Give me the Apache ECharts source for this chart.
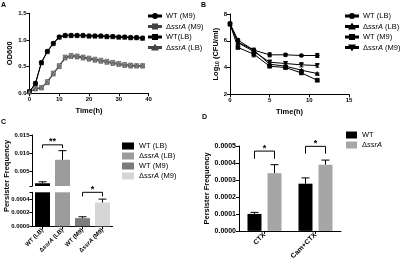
<!doctype html>
<html>
<head>
<meta charset="utf-8">
<title>ssrA persister</title>
<script src="https://cdn.jsdelivr.net/npm/echarts@6/dist/echarts.min.js"></script>
</head>
<body style="margin:0;padding:0;background:#fff;">
<div id="chart" style="width:400px;height:262px;"></div>
<script>
// A: growth curves (OD600)
var growthTime = [0,2,4,6,8,10,12,14,16,18,20,22,24,26,28,30,32,34,36,38];
var growthWtM9 = [0.03,0.19,0.58,0.79,0.94,1.06,1.09,1.09,1.09,1.09,1.08,1.08,1.08,1.07,1.07,1.06,1.06,1.05,1.05,1.04];
var growthSsrAM9 = [0.03,0.09,0.11,0.22,0.38,0.52,0.68,0.71,0.7,0.68,0.66,0.64,0.62,0.6,0.58,0.56,0.54,0.53,0.52,0.52];
var growthWtLB = [0.03,0.18,0.57,0.78,0.93,1.05,1.08,1.08,1.08,1.08,1.07,1.07,1.07,1.06,1.06,1.05,1.05,1.04,1.04,1.03];
var growthSsrALB = [0.03,0.08,0.1,0.2,0.36,0.5,0.66,0.69,0.68,0.66,0.64,0.62,0.6,0.58,0.56,0.54,0.52,0.51,0.51,0.51];

// B: killing curves, log10 CFU/ml
var killTime = [0,1,3,5,7,9,11];
var killWtLB = [7.3,6.05,5.3,4.95,4.95,4.9,4.9];
var killWtLBErr = [0.05,0.1,0.15,0.15,0.1,0.05,0.15];
var killSsrALB = [7.25,5.9,5.3,4.25,4.1,3.8,3.55];
var killSsrALBErr = [0.05,0.15,0.1,0.1,0.1,0.05,0.05];
var killWtM9 = [7.25,5.5,5.0,4.1,4.0,3.6,3.05];
var killWtM9Err = [0.05,0.1,0.2,0.1,0.1,0.08,0.08];
var killSsrAM9 = [7.25,5.85,5.2,4.4,4.3,4.2,4.15];
var killSsrAM9Err = [0.05,0.15,0.15,0.15,0.15,0.15,0.12];

// C: persister frequency, broken axis
var persistCats = ['WT (LB)', 'ΔssrA (LB)', 'WT (M9)', 'ΔssrA (M9)'];
var persistVals = [0.00175, 0.0082, 0.00012, 0.00035];
var persistErrs = [0.0004, 0.0025, 0.00002, 0.00005];
var cUpperTicks = [0.005, 0.010, 0.015];
var cLowerTicks = [0, 0.0002, 0.0004];
var sigCUpper = [[0, 1, 0.0123, 0.0114, '**']];
var sigCLower = [[2, 3, 0.0005, 0.00044, '*']];

// D: persister frequency with CTX / Cam+CTX
var ctxCats = ['CTX', 'Cam+CTX'];
var ctxWt = [0.0001, 0.000278];
var ctxWtErr = [0.000009, 0.000034];
var ctxSsrA = [0.00034, 0.00039];
var ctxSsrAErr = [0.00005, 0.000027];
var sigD = [[0, 0, 0.00047, 0.000425, '*'], [1, 1, 0.000498, 0.000455, '*']];

var FONT = 'Liberation Sans';
var persistColors = ['#000000', '#9b9b9b', '#7b7b7b', '#d6d6d6'];

// legend icons: short line with a marker in the middle
var ICON_LINE = 'M0,3h24v2h-24z ';
var icons = {
    circle: 'path://' + ICON_LINE + 'M16,4A4,4 0 1,0 8,4A4,4 0 1,0 16,4Z',
    rect: 'path://' + ICON_LINE + 'M8,0h8v8h-8z',
    tri: 'path://' + ICON_LINE + 'M12,0L16.5,8L7.5,8Z',
    triDown: 'path://' + ICON_LINE + 'M7.5,0L16.5,0L12,8Z'
};

function richName(s) {
    var n = s.indexOf('|') >= 0 ? s.split('|')[1] : s;
    if (n.indexOf('ΔssrA') === 0) return '{d|Δ}{i|ssrA}{d|' + n.slice(5) + '}';
    return '{d|' + n + '}';
}
function richStyle(size, weight) {
    return {
        d: {fontSize: size, fontFamily: FONT, fontWeight: weight, color: '#000', lineHeight: size + 1},
        i: {fontSize: size, fontFamily: FONT, fontWeight: weight, fontStyle: 'italic', color: '#000', lineHeight: size + 1}
    };
}

var axisLineStyle = {show: true, lineStyle: {color: '#000', width: 1}};
var tickStyle = {show: true, inside: false, length: 3, lineStyle: {color: '#000', width: 1}};
var labelStyle = {color: '#000', fontSize: 6, fontWeight: 'bold', fontFamily: FONT, margin: 3};
var nameStyle = {color: '#000', fontSize: 7.5, fontWeight: 'bold', fontFamily: FONT};

function valueAxis(grid, min, max, interval, digits, extra, labelExtra) {
    var ax = {
        type: 'value', gridIndex: grid, min: min, max: max, interval: interval,
        axisLine: axisLineStyle, axisTick: tickStyle, splitLine: {show: false},
        axisLabel: Object.assign({}, labelStyle, {
            formatter: function (v) { return digits == null ? String(v) : v.toFixed(digits); }
        }, labelExtra || {})
    };
    return Object.assign(ax, extra || {});
}

function zip(xs, ys) { return xs.map(function (x, i) { return [x, ys[i]]; }); }

function lineSeries(name, x, y, xs, ys, symbol, color, lineColor, extra) {
    return Object.assign({
        type: 'line', name: name, xAxisIndex: x, yAxisIndex: y, data: zip(xs, ys),
        symbol: symbol, symbolSize: 4, lineStyle: {color: lineColor, width: 1},
        itemStyle: {color: color, borderColor: lineColor, borderWidth: 0.6}
    }, extra || {});
}

// vertical error bars with caps: rows [x, low, high]
function errorSeries(x, y, rows, shift, capW) {
    return {
        type: 'custom', xAxisIndex: x, yAxisIndex: y, z: 5, silent: true,
        data: rows, encode: {x: 0, y: [1, 2]},
        renderItem: function (params, api) {
            var lo = api.coord([api.value(0), api.value(1)]);
            var hi = api.coord([api.value(0), api.value(2)]);
            var cx = lo[0] + shift;
            var st = {stroke: '#000', lineWidth: 1};
            return {type: 'group', children: [
                {type: 'line', shape: {x1: cx, y1: lo[1], x2: cx, y2: hi[1]}, style: st},
                {type: 'line', shape: {x1: cx - capW, y1: hi[1], x2: cx + capW, y2: hi[1]}, style: st}
            ]};
        }
    };
}
function symErrSeries(x, y, xs, ys, es) {
    var s = errorSeries(x, y, xs.map(function (t, i) { return [t, ys[i] + es[i], ys[i] - es[i]]; }), 0, 2);
    var inner = s.renderItem;
    s.renderItem = function (params, api) {
        var g = inner(params, api);
        var lo = api.coord([api.value(0), api.value(1)]);
        g.children.push({type: 'line', shape: {x1: lo[0] - 2, y1: lo[1], x2: lo[0] + 2, y2: lo[1]}, style: {stroke: '#000', lineWidth: 1}});
        return g;
    };
    return s;
}

// significance brackets: rows [catA, catB, yTop, yLow, text]
function bracketSeries(x, y, rows, shiftA, shiftB) {
    return {
        type: 'custom', xAxisIndex: x, yAxisIndex: y, z: 6, silent: true,
        data: rows.map(function (r) { return r.slice(0, 4); }), encode: {x: [0, 1], y: [2, 3]},
        renderItem: function (params, api) {
            var a = api.coord([api.value(0), api.value(2)]);
            var b = api.coord([api.value(1), api.value(2)]);
            var low = api.coord([api.value(0), api.value(3)])[1];
            var ax = a[0] + shiftA, bx = b[0] + shiftB;
            return {type: 'group', children: [
                {type: 'polyline', shape: {points: [[ax, low], [ax, a[1]], [bx, a[1]], [bx, low]]},
                    style: {stroke: '#000', lineWidth: 1, fill: null}},
                {type: 'text', x: (ax + bx) / 2, y: a[1] + 1.5,
                    style: {text: rows[params.dataIndex][4], align: 'center', verticalAlign: 'bottom',
                        font: 'bold 9px ' + FONT, fill: '#000'}}
            ]};
        }
    };
}

var cUpperMin = 0.001, cUpperMax = 0.015, cLowerMax = 0.0005;

var series = [
    lineSeries('A|WT (M9)', 0, 0, growthTime, growthWtM9, 'circle', '#000', '#000'),
    lineSeries('A|ΔssrA (M9)', 0, 0, growthTime, growthSsrAM9, 'rect', '#9a9a9a', '#444'),
    lineSeries('A|WT(LB)', 0, 0, growthTime, growthWtLB, 'rect', '#000', '#000'),
    lineSeries('A|ΔssrA (LB)', 0, 0, growthTime, growthSsrALB, 'triangle', '#8a8a8a', '#444'),
    lineSeries('B|WT (LB)', 1, 1, killTime, killWtLB, 'circle', '#000', '#000'),
    lineSeries('B|ΔssrA (LB)', 1, 1, killTime, killSsrALB, 'triangle', '#000', '#000'),
    lineSeries('B|WT (M9)', 1, 1, killTime, killWtM9, 'rect', '#000', '#000'),
    lineSeries('B|ΔssrA (M9)', 1, 1, killTime, killSsrAM9, 'triangle', '#000', '#000', {symbolRotate: 180}),
    symErrSeries(1, 1, killTime, killWtLB, killWtLBErr),
    symErrSeries(1, 1, killTime, killSsrALB, killSsrALBErr),
    symErrSeries(1, 1, killTime, killWtM9, killWtM9Err),
    symErrSeries(1, 1, killTime, killSsrAM9, killSsrAM9Err)
];

// C bars: one series per category, upper and lower panels
persistCats.forEach(function (c, i) {
    [2, 3].forEach(function (g) {
        if (g === 2 && persistVals[i] < cUpperMin) return;
        series.push({
            type: 'bar', name: 'C|' + c, xAxisIndex: g, yAxisIndex: g,
            barWidth: 15, barGap: '-100%', clip: true,
            itemStyle: {color: persistColors[i]},
            data: persistCats.map(function (cc, j) { return j === i ? persistVals[i] : '-'; })
        });
    });
});
var errUpper = [], errLower = [];
persistCats.forEach(function (c, i) {
    var row = [i, persistVals[i], persistVals[i] + persistErrs[i]];
    (persistVals[i] > cLowerMax ? errUpper : errLower).push(row);
});
series.push(errorSeries(2, 2, errUpper, 0, 4));
series.push(errorSeries(3, 3, errLower, 0, 4));
series.push(bracketSeries(2, 2, sigCUpper, 0, 0));
series.push(bracketSeries(3, 3, sigCLower, 0, 0));

// D bars
series.push({type: 'bar', name: 'D|WT', xAxisIndex: 4, yAxisIndex: 4, barWidth: 14, barGap: '43%',
    itemStyle: {color: '#000'}, data: ctxWt});
series.push({type: 'bar', name: 'D|ΔssrA', xAxisIndex: 4, yAxisIndex: 4, barWidth: 14, barGap: '43%',
    itemStyle: {color: '#a6a6a6'}, data: ctxSsrA});
series.push(errorSeries(4, 4, ctxWt.map(function (v, i) { return [i, v, v + ctxWtErr[i]]; }), -10, 4));
series.push(errorSeries(4, 4, ctxSsrA.map(function (v, i) { return [i, v, v + ctxSsrAErr[i]]; }), 10, 4));
series.push(bracketSeries(4, 4, sigD, -10, 10));

function legend(left, top, names, icon, w, h, gap) {
    return {
        left: left, top: top, orient: 'vertical', data: names, icon: icon,
        itemWidth: w, itemHeight: h, itemGap: gap, padding: 0, selectedMode: false,
        formatter: richName,
        textStyle: {fontSize: 7.5, fontFamily: FONT, color: '#000', rich: richStyle(7.5, 'normal')}
    };
}
function lineLegend(left, top, names, shapes) {
    var items = names.map(function (n, i) { return {name: n, icon: icons[shapes[i]]}; });
    return legend(left, top, items, undefined, 12, 4, 2.5);
}

var chart = echarts.init(document.getElementById('chart'), null, {renderer: 'canvas'});
chart.setOption({
    animation: false,
    backgroundColor: '#fff',
    title: [
        {text: 'A', left: 1, top: 2},
        {text: 'B', left: 201, top: 1.5},
        {text: 'C', left: 1, top: 118.5},
        {text: 'D', left: 202, top: 114}
    ].map(function (t) {
        return Object.assign(t, {padding: 0, textStyle: {fontSize: 7, fontWeight: 'bold', fontFamily: FONT, color: '#000'}});
    }),
    legend: [
        lineLegend(148, 12, ['A|WT (M9)', 'A|ΔssrA (M9)', 'A|WT(LB)', 'A|ΔssrA (LB)'], ['circle', 'rect', 'rect', 'tri']),
        lineLegend(345, 12, ['B|WT (LB)', 'B|ΔssrA (LB)', 'B|WT (M9)', 'B|ΔssrA (M9)'], ['circle', 'tri', 'rect', 'triDown']),
        legend(122, 142, persistCats.map(function (c) { return 'C|' + c; }), 'rect', 12, 7, 2),
        legend(346, 131, ['D|WT', 'D|ΔssrA'], 'rect', 11, 7, 2)
    ],
    graphic: [{
        type: 'text', x: 7, y: 176, rotation: Math.PI / 2,
        style: {text: 'Persister Frequency', align: 'center', verticalAlign: 'middle',
            font: 'bold 7.5px ' + FONT, fill: '#000'}
    }],
    grid: [
        {left: 29.5, top: 13.3, width: 119, height: 80},
        {left: 230, top: 14, width: 119, height: 80.3},
        {left: 32.5, top: 135, width: 80, height: 51},
        {left: 32.5, top: 192.3, width: 80, height: 34},
        {left: 239, top: 146, width: 102, height: 86}
    ],
    xAxis: [
        valueAxis(0, 0, 40, 10, null, {name: 'Time(h)', nameLocation: 'middle', nameGap: 14, nameTextStyle: nameStyle}),
        valueAxis(1, 0, 15, 5, null, {name: 'Time(h)', nameLocation: 'middle', nameGap: 14, nameTextStyle: nameStyle}),
        {type: 'category', gridIndex: 2, data: persistCats, show: false},
        {type: 'category', gridIndex: 3, data: persistCats, axisLine: axisLineStyle,
            axisTick: Object.assign({alignWithLabel: true}, tickStyle),
            axisLabel: Object.assign({}, labelStyle, {rotate: 45, interval: 0, formatter: richName, rich: richStyle(6, 'bold')})},
        {type: 'category', gridIndex: 4, data: ctxCats, axisLine: axisLineStyle,
            axisTick: Object.assign({alignWithLabel: true}, tickStyle),
            axisLabel: Object.assign({}, labelStyle, {fontSize: 7, rotate: 45, interval: 0})}
    ],
    yAxis: [
        valueAxis(0, 0, 1.5, 0.5, 1, {name: 'OD600', nameLocation: 'middle', nameGap: 15, nameTextStyle: nameStyle}),
        valueAxis(1, 2, 8, 2, null, {name: 'Log{s|10} (CFU/ml)', nameLocation: 'middle', nameGap: 10,
            nameTextStyle: Object.assign({}, nameStyle, {rich: {s: {fontSize: 5, fontWeight: 'bold', fontFamily: FONT, verticalAlign: 'bottom', padding: [3, 0, 0, 0]}}})}),
        {type: 'value', gridIndex: 2, min: cUpperMin, max: cUpperMax, splitLine: {show: false},
            axisLine: axisLineStyle,
            axisTick: Object.assign({}, tickStyle, {customValues: [cUpperMin].concat(cUpperTicks)}),
            axisLabel: Object.assign({}, labelStyle, {customValues: cUpperTicks, formatter: function (v) { return v.toFixed(3); }})},
        {type: 'value', gridIndex: 3, min: 0, max: cLowerMax, splitLine: {show: false},
            axisLine: axisLineStyle,
            axisTick: Object.assign({}, tickStyle, {customValues: cLowerTicks.concat([cLowerMax])}),
            axisLabel: Object.assign({}, labelStyle, {customValues: cLowerTicks, formatter: function (v) { return v.toFixed(4); }})},
        valueAxis(4, 0, 0.0005, 0.0001, 4, {name: 'Persister Frequency', nameLocation: 'middle', nameGap: 27, nameTextStyle: nameStyle}, {fontSize: 7})
    ],
    series: series
});
</script>
</body>
</html>
